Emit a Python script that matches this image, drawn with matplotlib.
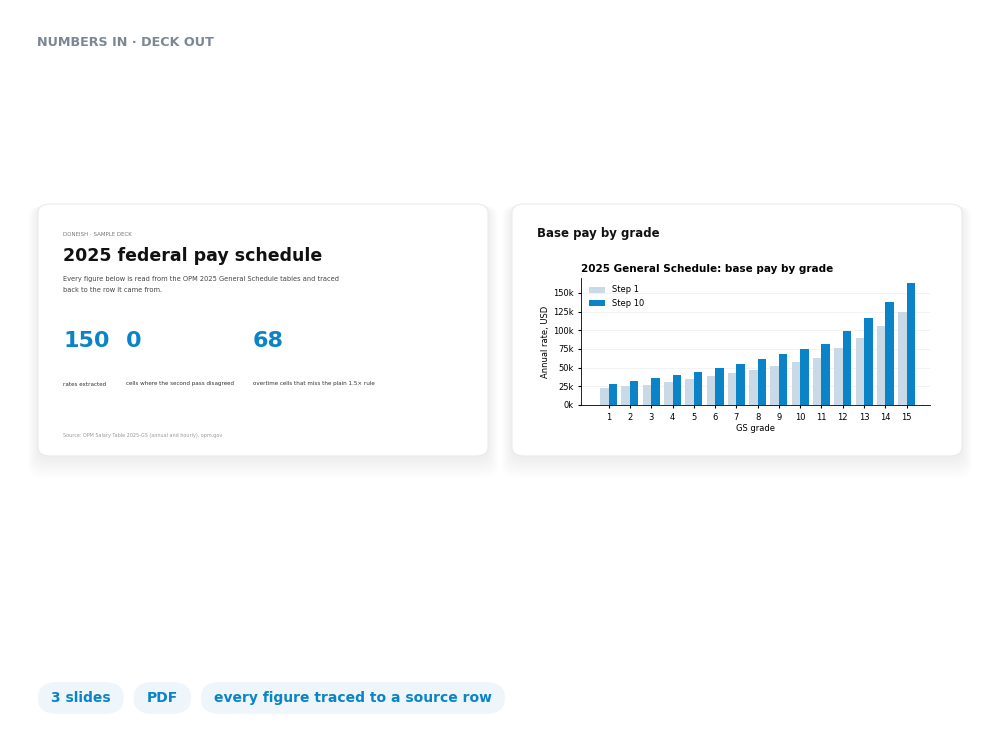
import matplotlib.pyplot as plt
import numpy as np
from matplotlib.patches import FancyBboxPatch

grades = list(range(1, 16))
step1 = [22360, 25142, 27434, 30797, 34454, 38407, 42679, 47265, 52205, 57489,
         63163, 75706, 90025, 106382, 125133]
step10 = [27970, 31641, 35663, 40036, 44796, 49930, 55488, 61449, 67868, 74741,
          82117, 98422, 117034, 138294, 162672]
stats = ["150", "0", "68"]
stat_labels = ["rates extracted", "cells where the second pass disagreed",
               "overtime cells that miss the plain 1.5× rule"]
pills = ["3 slides", "PDF", "every figure traced to a source row"]

W, H = 1000, 750
fig = plt.figure(figsize=(10, 7.5), dpi=100)
fig.patch.set_facecolor("white")


def fx(x):
    return x / W


def fy(y):
    return 1 - y / H


def card(x0, y0, x1, y1):
    # soft shadow
    for i in range(8):
        g = 2 + i * 2.5
        fig.patches.append(FancyBboxPatch((fx(x0 - g / 2), fy(y1 + g + 2)), fx(x1 - x0 + g), (y1 - y0 + g) / H,
                                          boxstyle="round,pad=0,rounding_size=0.014",
                                          transform=fig.transFigure, fc="black", ec="none",
                                          alpha=0.007, zorder=0))
    fig.patches.append(FancyBboxPatch((fx(x0), fy(y1)), fx(x1 - x0), (y1 - y0) / H,
                                      boxstyle="round,pad=0,rounding_size=0.012",
                                      transform=fig.transFigure, fc="white", ec="#e8eaed",
                                      lw=0.8, zorder=1))


blue = "#0a84c6"
fig.text(fx(37), fy(43), "NUMBERS IN · DECK OUT", fontsize=9.2, weight="bold",
         color="#7b8794", va="center")

card(38, 204, 488, 456)
card(512, 204, 962, 456)

# left slide
fig.text(fx(63), fy(235), "DONEISH · SAMPLE DECK", fontsize=4, color="#777", va="center")
fig.text(fx(63), fy(256), "2025 federal pay schedule", fontsize=12.5, weight="bold",
         color="#111", va="center")
fig.text(fx(63), fy(279), "Every figure below is read from the OPM 2025 General Schedule tables and traced",
         fontsize=4.8, color="#444", va="center")
fig.text(fx(63), fy(290), "back to the row it came from.", fontsize=4.8, color="#444", va="center")
for x, s, l in zip([63, 126, 253], stats, stat_labels):
    fig.text(fx(x), fy(341), s, fontsize=16, weight="bold", color=blue, va="center")
    fig.text(fx(x), fy(384), l, fontsize=4.1, color="#333", va="center")
fig.text(fx(63), fy(436), "Source: OPM Salary Table 2025-GS (annual and hourly), opm.gov",
         fontsize=3.5, color="#999", va="center")

# right slide
fig.text(fx(537), fy(233), "Base pay by grade", fontsize=8.5, weight="bold", color="#111", va="center")
ax = fig.add_axes([fx(581), fy(405), fx(930 - 581), (405 - 278) / H], zorder=3)
x = np.arange(len(grades))
w = 0.4
ax.bar(x - w / 2, step1, w, color="#c9d9e6", label="Step 1", zorder=2)
ax.bar(x + w / 2, step10, w, color=blue, label="Step 10", zorder=2)
ax.set_xticks(x)
ax.set_xticklabels(grades)
ax.set_xlim(-1.3, 15.1)
ax.set_ylim(0, 170000)
ax.set_yticks(range(0, 150001, 25000))
ax.set_yticklabels([f"{v // 1000}k" for v in range(0, 150001, 25000)])
ax.tick_params(labelsize=6, length=2)
ax.yaxis.grid(True, color="#eef1f4", lw=0.6, zorder=0)
for s in ["top", "right"]:
    ax.spines[s].set_visible(False)
for s in ["left", "bottom"]:
    ax.spines[s].set_linewidth(0.6)
ax.set_xlabel("GS grade", fontsize=6, labelpad=2)
ax.set_ylabel("Annual rate, USD", fontsize=6, labelpad=2)
ax.set_title("2025 General Schedule: base pay by grade", fontsize=7.5, weight="bold",
             loc="left", pad=4)
ax.legend(loc="upper left", fontsize=6, frameon=False, handlelength=2)

# pills
px = 38
for p in pills:
    t = fig.text(0, 0, p, fontsize=10, weight="bold")
    fig.canvas.draw()
    tw = t.get_window_extent().width
    t.remove()
    pw = tw + 26
    fig.patches.append(FancyBboxPatch((fx(px), fy(714)), fx(pw), 32 / H,
                                      boxstyle="round,pad=0,rounding_size=0.02",
                                      transform=fig.transFigure, fc="#eef5fb", ec="none"))
    fig.text(fx(px + pw / 2), fy(698), p, fontsize=10, weight="bold", color=blue,
             ha="center", va="center")
    px += pw + 10

fig.savefig("out.png", dpi=100)
